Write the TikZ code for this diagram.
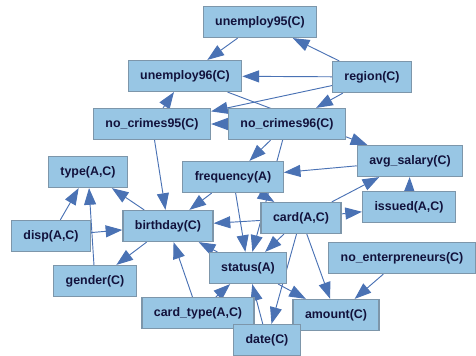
\documentclass[tikz,border=0pt]{standalone}
\usepackage{fontspec}
\setmainfont{Liberation Sans}
\usetikzlibrary{arrows.meta,backgrounds}
\definecolor{boxfill}{RGB}{152,198,228}
\definecolor{boxline}{RGB}{125,150,170}
\definecolor{edgeblue}{RGB}{74,114,180}
\definecolor{textnavy}{RGB}{18,18,60}
\tikzset{
  attr/.style={rectangle, draw=boxline, fill=boxfill, line width=0.9pt, minimum height=23.25pt, inner xsep=9pt, inner ysep=2pt, text=textnavy, font=\fontsize{9.3}{11}\selectfont\bfseries},
  arrow/.style={-{Triangle[length=12.5pt,width=9pt]}, line width=0.7pt, edgeblue}
}

\begin{document}
\begin{tikzpicture}[x=0.75pt, y=-0.75pt]
  \useasboundingbox (0,0) rectangle (476,355);
  \node[attr] (u95) at (260,22) {unemploy95(C)};
  \node[attr] (u96) at (185,76) {unemploy96(C)};
  \node[attr] (reg) at (372,77) {region(C)};
  \node[attr] (nc95) at (152,124) {no\_crimes95(C)};
  \node[attr] (nc96) at (287,124) {no\_crimes96(C)};
  \node[attr] (sal) at (410,161) {avg\_salary(C)};
  \node[attr] (typ) at (88,172) {type(A,C)};
  \node[attr] (freq) at (233,177) {frequency(A)};
  \node[attr] (iss) at (409,207) {issued(A,C)};
  \node[attr] (card) at (301,218) {card(A,C)};
  \node[attr] (bday) at (168,226) {birthday(C)};
  \node[attr] (disp) at (51,236) {disp(A,C)};
  \node[attr] (nent) at (402,258) {no\_enterpreneurs(C)};
  \node[attr] (stat) at (248,268) {status(A)};
  \node[attr] (gend) at (95,281) {gender(C)};
  \node[attr] (ctype) at (198,313) {card\_type(A,C)};
  \node[attr] (amt) at (336,315) {amount(C)};
  \node[attr] (date) at (267,340) {date(C)};
  % links run under the boxes
  \begin{scope}[on background layer]
    \draw[arrow] (u95)--(u96); \draw[arrow] (reg)--(u95); \draw[arrow] (reg)--(u96);
    \draw[arrow] (reg)--(nc95); \draw[arrow] (reg)--(nc96); \draw[arrow] (nc95)--(u96);
    \draw[arrow] (u96)--(sal); \draw[arrow] (nc96)--(nc95); \draw[arrow] (nc96)--(freq);
    \draw[arrow] (nc96)--(stat); \draw[arrow] (sal)--(freq); \draw[arrow] (card)--(sal);
    \draw[arrow] (iss)--(sal); \draw[arrow] (card)--(iss); \draw[arrow] (freq)--(card);
    \draw[arrow] (disp)--(typ); \draw[arrow] (gend)--(typ); \draw[arrow] (bday)--(typ);
    \draw[arrow] (disp)--(bday); \draw[arrow] (bday)--(gend); \draw[arrow] (nc95)--(bday);
    \draw[arrow] (freq)--(bday); \draw[arrow] (card)--(bday); \draw[arrow] (freq)--(stat);
    \draw[arrow] (card)--(stat); \draw[arrow] (stat)--(bday); \draw[arrow] (ctype)--(bday);
    \draw[arrow] (ctype)--(stat); \draw[arrow] (date)--(stat); \draw[arrow] (card)--(date);
    \draw[arrow] (card)--(amt); \draw[arrow] (stat)--(amt); \draw[arrow] (nent)--(amt);
  \end{scope}
\end{tikzpicture}
\end{document}
